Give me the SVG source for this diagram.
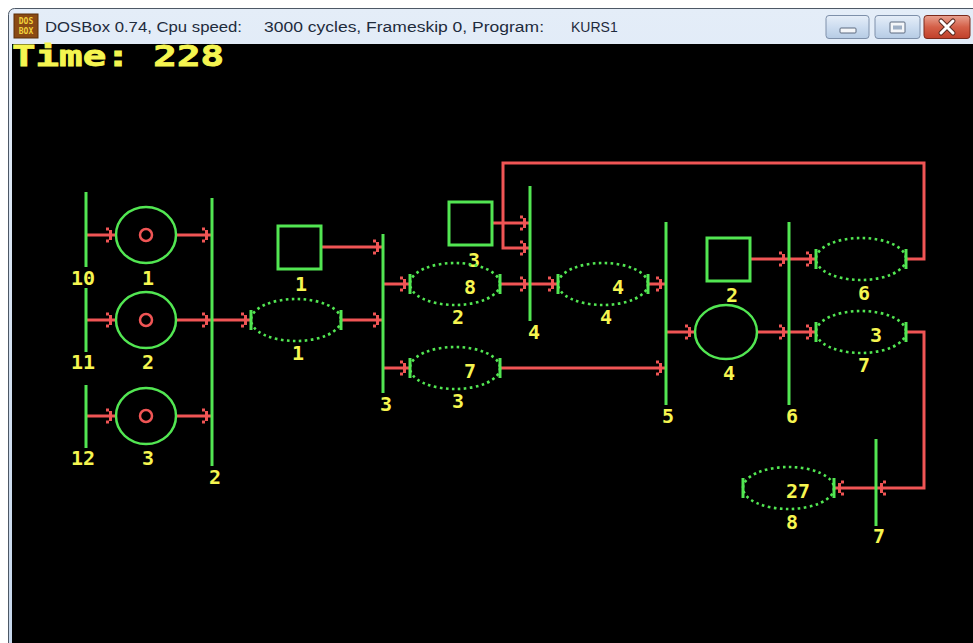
<svg xmlns="http://www.w3.org/2000/svg" xmlns:xlink="http://www.w3.org/1999/xlink" width="973" height="643" viewBox="0 0 973 643">
<style>
.bar{stroke:#52e652;stroke-width:3;fill:none}
.pl{stroke:#52e652;stroke-width:2.5;fill:none}
.dot{stroke:#52e652;stroke-width:2.6;fill:none;stroke-dasharray:2.6 3.4}
.sq{stroke:#52e652;stroke-width:3;fill:none}
.tok{stroke:#f05555;stroke-width:2.5;fill:none}
.w{stroke:#f05555;stroke-width:3;fill:none}
.lb{font-family:"DejaVu Sans Mono","Liberation Mono",monospace;font-weight:bold;font-size:20px;fill:#f5f550;text-anchor:middle}
.tt{font-family:"Liberation Sans","DejaVu Sans",sans-serif;font-size:14px;fill:#1e2b3c}
</style>
<defs>
<g id="ah" fill="#f05555">
<rect x="-10" y="-7.5" width="3" height="3"/>
<rect x="-7" y="-5" width="3" height="10"/>
<rect x="-10" y="4.5" width="3" height="3"/>
</g>
<linearGradient id="tb" x1="0" y1="0" x2="0" y2="1">
<stop offset="0" stop-color="#e4edf8"/>
<stop offset="1" stop-color="#c6d7ec"/>
</linearGradient>
<linearGradient id="btn" x1="0" y1="0" x2="0" y2="1">
<stop offset="0" stop-color="#e6eef8"/>
<stop offset="0.5" stop-color="#cdddf0"/>
<stop offset="1" stop-color="#b6cbe4"/>
</linearGradient>
<linearGradient id="cls" x1="0" y1="0" x2="0" y2="1">
<stop offset="0" stop-color="#e9a392"/>
<stop offset="0.5" stop-color="#d46048"/>
<stop offset="1" stop-color="#c0402a"/>
</linearGradient>
</defs>

<g id="window">
<rect x="0" y="0" width="973" height="643" fill="#ffffff"/>
<rect x="8.5" y="8.5" width="980" height="650" rx="6" fill="url(#tb)" stroke="#4d5866" stroke-width="1"/>
<rect x="12" y="44" width="961" height="599" fill="#000000"/>
<rect x="14" y="14" width="24" height="24" fill="#8a4a14" stroke="#5a2e08" stroke-width="1"/>
<text x="26" y="24" font-family="DejaVu Sans Mono,monospace" font-size="8" font-weight="bold" fill="#f2d23c" text-anchor="middle">DOS</text>
<text x="26" y="34" font-family="DejaVu Sans Mono,monospace" font-size="8" font-weight="bold" fill="#f2d23c" text-anchor="middle">BOX</text>
<text class="tt" y="32"><tspan x="45" textLength="197" lengthAdjust="spacingAndGlyphs">DOSBox 0.74, Cpu speed:</tspan><tspan x="264" textLength="280" lengthAdjust="spacingAndGlyphs">3000 cycles, Frameskip  0, Program:</tspan><tspan x="571">KURS1</tspan></text>
<rect x="826" y="15.5" width="43" height="23" rx="3" fill="url(#btn)" stroke="#7e90aa"/>
<rect x="840" y="28" width="16" height="5" rx="1" fill="#f4f6f9" stroke="#5d6b80" stroke-width="1"/>
<rect x="875" y="15.5" width="45" height="23" rx="3" fill="url(#btn)" stroke="#7e90aa"/>
<rect x="890" y="22" width="15" height="11" rx="1" fill="#f4f6f9" stroke="#5d6b80" stroke-width="1"/>
<rect x="893" y="25.5" width="9" height="4" fill="#9fb0c6"/>
<rect x="924" y="15.5" width="46" height="23" rx="3" fill="url(#cls)" stroke="#7a2a1c"/>
<path d="M941 21 L953 33 M953 21 L941 33" stroke="#5a2a20" stroke-width="5" stroke-linecap="round"/>
<path d="M941 21 L953 33 M953 21 L941 33" stroke="#ffffff" stroke-width="3" stroke-linecap="round"/>
<text x="12" y="66" font-family="DejaVu Sans Mono,monospace" font-weight="bold" font-size="28" fill="#f5f550" stroke="#f5f550" stroke-width="0.8" textLength="212" lengthAdjust="spacingAndGlyphs">Time: 228</text>
</g>

<g id="connectors">
<line class="w" x1="86" y1="235" x2="116" y2="235"/>
<line class="w" x1="176" y1="235" x2="212" y2="235"/>
<line class="w" x1="86" y1="320" x2="116" y2="320"/>
<line class="w" x1="176" y1="320" x2="251" y2="320"/>
<line class="w" x1="86" y1="416" x2="116" y2="416"/>
<line class="w" x1="176" y1="416" x2="212" y2="416"/>
<line class="w" x1="321" y1="247" x2="383" y2="247"/>
<line class="w" x1="341" y1="320" x2="383" y2="320"/>
<line class="w" x1="383" y1="284" x2="410" y2="284"/>
<line class="w" x1="383" y1="368" x2="410" y2="368"/>
<line class="w" x1="492" y1="223" x2="530" y2="223"/>
<polyline class="w" points="906,259 924,259 924,163 503,163 503,248 530,248"/>
<line class="w" x1="500" y1="284" x2="558" y2="284"/>
<line class="w" x1="648" y1="284" x2="666" y2="284"/>
<line class="w" x1="500" y1="368" x2="666" y2="368"/>
<line class="w" x1="666" y1="332" x2="695" y2="332"/>
<line class="w" x1="750" y1="259" x2="816" y2="259"/>
<line class="w" x1="757" y1="332" x2="816" y2="332"/>
<polyline class="w" points="906,332 924,332 924,488 834,488"/>
<use xlink:href="#ah" transform="translate(116,235)"/>
<use xlink:href="#ah" transform="translate(212,235)"/>
<use xlink:href="#ah" transform="translate(116,320)"/>
<use xlink:href="#ah" transform="translate(212,320)"/>
<use xlink:href="#ah" transform="translate(251,320)"/>
<use xlink:href="#ah" transform="translate(116,416)"/>
<use xlink:href="#ah" transform="translate(212,416)"/>
<use xlink:href="#ah" transform="translate(383,247)"/>
<use xlink:href="#ah" transform="translate(383,320)"/>
<use xlink:href="#ah" transform="translate(410,284)"/>
<use xlink:href="#ah" transform="translate(410,368)"/>
<use xlink:href="#ah" transform="translate(530,223)"/>
<use xlink:href="#ah" transform="translate(530,248)"/>
<use xlink:href="#ah" transform="translate(530,284)"/>
<use xlink:href="#ah" transform="translate(558,284)"/>
<use xlink:href="#ah" transform="translate(666,284)"/>
<use xlink:href="#ah" transform="translate(666,368)"/>
<use xlink:href="#ah" transform="translate(695,332)"/>
<use xlink:href="#ah" transform="translate(789,259)"/>
<use xlink:href="#ah" transform="translate(816,259)"/>
<use xlink:href="#ah" transform="translate(789,332)"/>
<use xlink:href="#ah" transform="translate(816,332)"/>
<use xlink:href="#ah" transform="translate(876,488) rotate(180)"/>
<use xlink:href="#ah" transform="translate(834,488) rotate(180)"/>
</g>

<g id="t10"><line class="bar" x1="86" y1="192" x2="86" y2="267"/><text class="lb" x="83" y="285">10</text></g>
<g id="t11"><line class="bar" x1="86" y1="288" x2="86" y2="352"/><text class="lb" x="83" y="369">11</text></g>
<g id="t12"><line class="bar" x1="86" y1="385" x2="86" y2="448"/><text class="lb" x="83" y="465">12</text></g>
<g id="t2"><line class="bar" x1="212" y1="198" x2="212" y2="466"/><text class="lb" x="215" y="484">2</text></g>
<g id="t3"><line class="bar" x1="383" y1="234" x2="383" y2="393"/><text class="lb" x="386" y="411">3</text></g>
<g id="t4"><line class="bar" x1="530" y1="186" x2="530" y2="321"/><text class="lb" x="534" y="339">4</text></g>
<g id="t5"><line class="bar" x1="666" y1="222" x2="666" y2="405"/><text class="lb" x="668" y="423">5</text></g>
<g id="t6"><line class="bar" x1="789" y1="222" x2="789" y2="405"/><text class="lb" x="792" y="423">6</text></g>
<g id="t7"><line class="bar" x1="876" y1="439" x2="876" y2="526"/><text class="lb" x="879" y="543">7</text></g>

<g id="p1"><ellipse class="pl" cx="146" cy="235" rx="30" ry="28"/><circle class="tok" cx="146" cy="235" r="6"/><text class="lb" x="148" y="285">1</text></g>
<g id="p2"><ellipse class="pl" cx="146" cy="320" rx="30" ry="28"/><circle class="tok" cx="146" cy="320" r="6"/><text class="lb" x="148" y="369">2</text></g>
<g id="p3"><ellipse class="pl" cx="146" cy="416" rx="30" ry="28"/><circle class="tok" cx="146" cy="416" r="6"/><text class="lb" x="148" y="465">3</text></g>
<g id="p4"><ellipse class="pl" cx="726" cy="332" rx="31" ry="27"/><text class="lb" x="729" y="380">4</text></g>

<g id="s1"><rect class="sq" x="278" y="226" width="43" height="43"/><text class="lb" x="301" y="291">1</text></g>
<g id="s3"><rect class="sq" x="449" y="202" width="43" height="43"/><text class="lb" x="474" y="267">3</text></g>
<g id="s2"><rect class="sq" x="707" y="238" width="43" height="43"/><text class="lb" x="732" y="302">2</text></g>

<g id="q1"><ellipse class="dot" cx="296" cy="320" rx="45" ry="21"/><line class="bar" x1="251" y1="310" x2="251" y2="330"/><line class="bar" x1="341" y1="310" x2="341" y2="330"/><text class="lb" x="298" y="360">1</text></g>
<g id="q2"><ellipse class="dot" cx="455" cy="284" rx="45" ry="21"/><line class="bar" x1="410" y1="274" x2="410" y2="294"/><line class="bar" x1="500" y1="274" x2="500" y2="294"/><text class="lb" x="470" y="294">8</text><text class="lb" x="458" y="324">2</text></g>
<g id="q3"><ellipse class="dot" cx="455" cy="368" rx="45" ry="21"/><line class="bar" x1="410" y1="358" x2="410" y2="378"/><line class="bar" x1="500" y1="358" x2="500" y2="378"/><text class="lb" x="470" y="378">7</text><text class="lb" x="458" y="408">3</text></g>
<g id="q4"><ellipse class="dot" cx="603" cy="284" rx="45" ry="21"/><line class="bar" x1="558" y1="274" x2="558" y2="294"/><line class="bar" x1="648" y1="274" x2="648" y2="294"/><text class="lb" x="618" y="294">4</text><text class="lb" x="606" y="324">4</text></g>
<g id="q6"><ellipse class="dot" cx="861" cy="259" rx="45" ry="21"/><line class="bar" x1="816" y1="249" x2="816" y2="269"/><line class="bar" x1="906" y1="249" x2="906" y2="269"/><text class="lb" x="864" y="300">6</text></g>
<g id="q7"><ellipse class="dot" cx="861" cy="332" rx="45" ry="21"/><line class="bar" x1="816" y1="322" x2="816" y2="342"/><line class="bar" x1="906" y1="322" x2="906" y2="342"/><text class="lb" x="876" y="342">3</text><text class="lb" x="864" y="372">7</text></g>
<g id="q8"><ellipse class="dot" cx="788.5" cy="488" rx="45.5" ry="21"/><line class="bar" x1="743" y1="478" x2="743" y2="498"/><line class="bar" x1="834" y1="478" x2="834" y2="498"/><text class="lb" x="798" y="498">27</text><text class="lb" x="792" y="529">8</text></g>
</svg>
